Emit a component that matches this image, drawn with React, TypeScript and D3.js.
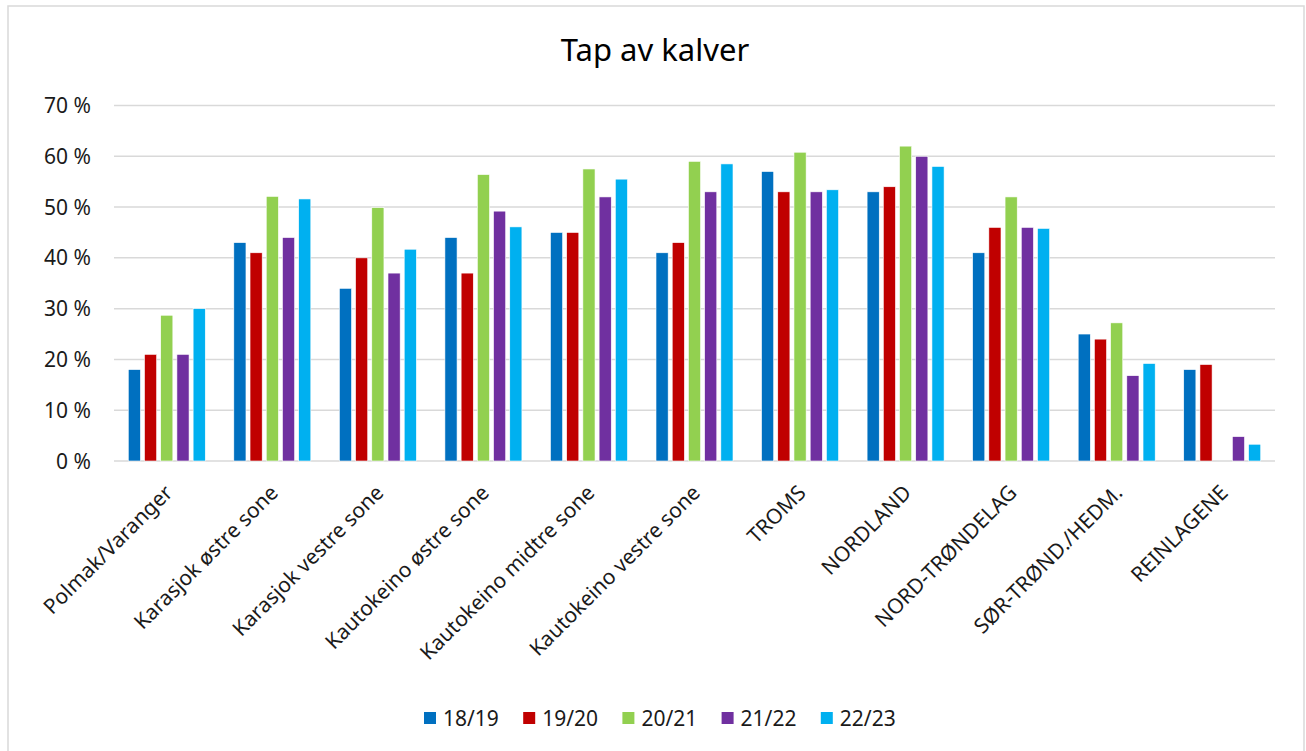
import React, { useEffect, useRef } from 'react';
import * as d3 from 'd3';

// Categories (areas) and seasons
const categories = [
    'Polmak/Varanger',
    'Karasjok østre sone',
    'Karasjok vestre sone',
    'Kautokeino østre sone',
    'Kautokeino midtre sone',
    'Kautokeino vestre sone',
    'TROMS',
    'NORDLAND',
    'NORD-TRØNDELAG',
    'SØR-TRØND./HEDM.',
    'REINLAGENE',
];
const seasons = ['18/19', '19/20', '20/21', '21/22', '22/23'];
const seasonColors = ['#0070C0', '#C00000', '#92D050', '#7030A0', '#00B0F0'];

// Calf loss in percent, one array per season
const s1819 = [18, 43, 34, 44, 45, 41, 57, 53, 41, 25, 18];
const s1920 = [21, 41, 40, 37, 45, 43, 53, 54, 46, 24, 19];
const s2021 = [28.7, 52.1, 49.9, 56.4, 57.5, 59, 60.8, 62, 52, 27.2, null];
const s2122 = [21, 44, 37, 49.2, 52, 53, 53, 60, 46, 16.8, 4.8];
const s2223 = [30, 51.6, 41.7, 46.1, 55.5, 58.5, 53.4, 58, 45.8, 19.2, 3.3];
const seriesValues = [s1819, s1920, s2021, s2122, s2223];

const yTicks = [0, 10, 20, 30, 40, 50, 60, 70];

const App = () => {
    const svgRef = useRef<SVGSVGElement>(null);

    useEffect(() => {
        const svg = d3.select(svgRef.current);
        svg.selectAll('*').remove();

        const font = "'Noto Sans', sans-serif";
        const left = 114, right = 1275, top = 105.5, bottom = 461;

        // chart frame
        svg.append('rect')
            .attr('x', 8).attr('y', 6)
            .attr('width', 1296).attr('height', 760)
            .attr('fill', '#fff')
            .attr('stroke', '#d9d9d9')
            .attr('stroke-width', 1.5);

        // title
        svg.append('text')
            .attr('x', 655).attr('y', 61)
            .attr('text-anchor', 'middle')
            .attr('font-family', font)
            .attr('font-size', 31)
            .attr('fill', '#000')
            .text('Tap av kalver');

        const x0 = d3.scaleBand().domain(categories).range([left, right])
            .paddingInner(0.232).paddingOuter(0.116);
        const x1 = d3.scaleBand().domain(seasons).range([0, x0.bandwidth()])
            .paddingInner(0.25).paddingOuter(0.125);
        const y = d3.scaleLinear().domain([0, 70]).range([bottom, top]);

        // gridlines
        svg.append('g').selectAll('line')
            .data(yTicks)
            .enter().append('line')
            .attr('x1', left).attr('x2', right)
            .attr('y1', d => y(d)).attr('y2', d => y(d))
            .attr('stroke', '#d9d9d9')
            .attr('stroke-width', 1.5);

        // y labels
        svg.append('g').selectAll('text')
            .data(yTicks)
            .enter().append('text')
            .attr('x', 91)
            .attr('y', d => y(d))
            .attr('dy', '0.36em')
            .attr('text-anchor', 'end')
            .attr('font-family', font)
            .attr('font-size', 21)
            .attr('fill', '#1a1a1a')
            .text(d => `${d} %`);

        // bars
        const groups = svg.append('g').selectAll('g')
            .data(categories)
            .enter().append('g')
            .attr('transform', d => `translate(${x0(d)},0)`);

        groups.selectAll('rect')
            .data((_, i) => seasons.map((s, j) => ({ s, j, v: seriesValues[j][i] })).filter(d => d.v != null))
            .enter().append('rect')
            .attr('x', d => x1(d.s))
            .attr('width', x1.bandwidth())
            .attr('y', d => y(d.v))
            .attr('height', d => y(0) - y(d.v))
            .attr('fill', d => seasonColors[d.j])
            .attr('stroke', '#fff')
            .attr('stroke-width', 0.6);

        // x labels, rotated
        svg.append('g').selectAll('text')
            .data(categories)
            .enter().append('text')
            .attr('transform', d => `translate(${x0(d) + x0.bandwidth() / 2 + 7},${bottom + 33}) rotate(-45)`)
            .attr('text-anchor', 'end')
            .attr('font-family', font)
            .attr('font-size', 21)
            .attr('fill', '#1a1a1a')
            .text(d => d);

        // legend
        const legend = svg.append('g').selectAll('g')
            .data(seasons)
            .enter().append('g')
            .attr('transform', (_, i) => `translate(${424 + i * 99.2},712)`);
        legend.append('rect')
            .attr('width', 12).attr('height', 12)
            .attr('fill', (_, i) => seasonColors[i]);
        legend.append('text')
            .attr('x', 19).attr('y', 6)
            .attr('dy', '0.36em')
            .attr('font-family', font)
            .attr('font-size', 21)
            .attr('fill', '#1a1a1a')
            .text(d => d);
    }, []);

    return (
        <svg ref={svgRef} width="1306" height="751"
            style={{ position: 'absolute', left: 0, top: 0, background: '#fff' }}></svg>
    );
};

export default App;
